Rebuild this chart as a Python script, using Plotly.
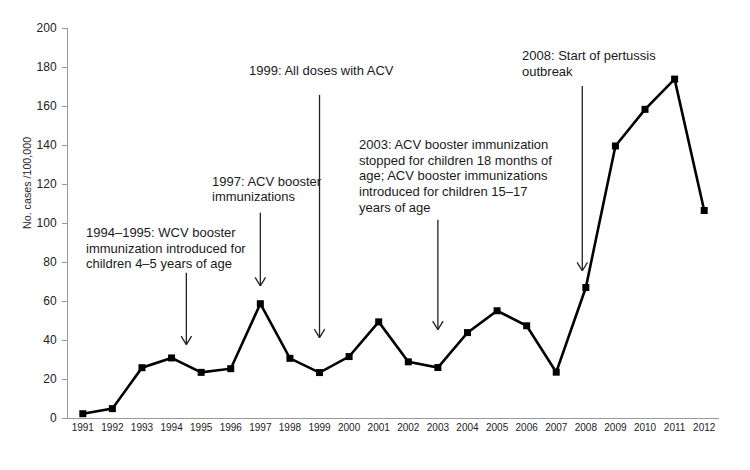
import plotly.graph_objects as go

# ---- data ----
years = list(range(1991, 2013))
cases = [2.2, 4.8, 25.8, 30.8, 23.4, 25.3, 58.6, 30.6, 23.3, 31.5, 49.3,
         28.8, 25.9, 43.8, 55.0, 47.3, 23.5, 66.9, 139.5, 158.3, 173.8, 106.4]
y_ticks = [0, 20, 40, 60, 80, 100, 120, 140, 160, 180, 200]

# annotation notes: left x (year units), line centres (value units), lines
note_x = [1991.07, 1995.33, 1996.59, 2000.30, 2005.81]
note_y = [[95.0, 87.0, 79.0],
          [121.4, 113.4],
          [178.1],
          [140.1, 132.1, 124.2, 116.2, 108.2],
          [185.8, 177.7]]
note_text = [["1994–1995: WCV booster", "immunization introduced for", "children 4–5 years of age"],
             ["1997: ACV booster", "immunizations"],
             ["1999: All doses with ACV"],
             ["2003: ACV booster immunization", "stopped for children 18 months of",
              "age; ACV booster immunizations", "introduced for children 15–17", "years of age"],
             ["2008: Start of pertussis", "outbreak"]]

# arrows: x (year units), top and bottom (value units)
arrow_x = [1994.5, 1997.0, 1999.0, 2003.0, 2007.88]
arrow_top = [74.5, 105.2, 165.7, 101.7, 170.3]
arrow_bot = [37.6, 67.8, 41.2, 45.3, 75.5]

FONT = "Liberation Sans, Arial, sans-serif"

# figure geometry (page has an 8px body margin)
W, H = 742, 462
ML, MR, MT, MB = 60, 31, 20, 52
plot_w = W - ML - MR
plot_h = H - MT - MB

fig = go.Figure()
fig.add_trace(go.Scatter(
    x=years, y=cases, mode="lines+markers",
    line=dict(color="#000000", width=2.6),
    marker=dict(symbol="square", size=7, color="#000000"),
    showlegend=False, hoverinfo="x+y"))

shapes = []
hw = 5.2 / 29.59   # half width of arrow head (years)
hh = 8.5 / 1.9525  # height of arrow head (value units)
for x, t, b in zip(arrow_x, arrow_top, arrow_bot):
    ln = dict(color="#222222", width=1.3)
    shapes.append(dict(type="line", xref="x", yref="y", x0=x, x1=x, y0=t, y1=b, line=ln))
    shapes.append(dict(type="line", xref="x", yref="y", x0=x - hw, x1=x, y0=b + hh, y1=b, line=ln))
    shapes.append(dict(type="line", xref="x", yref="y", x0=x + hw, x1=x, y0=b + hh, y1=b, line=ln))

annotations = []
for x, ys, texts in zip(note_x, note_y, note_text):
    for y, t in zip(ys, texts):
        annotations.append(dict(x=x, y=y, xref="x", yref="y", text=t, showarrow=False,
                                xanchor="left", yanchor="middle", borderpad=0,
                                font=dict(family=FONT, size=13, color="#1a1a1a")))
# y-axis title (not centred on the plot in the original)
annotations.append(dict(x=(19 - ML) / plot_w, y=(H - MB - 175) / plot_h,
                        xref="paper", yref="paper", text="No. cases /100,000",
                        showarrow=False, textangle=-90, xanchor="center", yanchor="middle",
                        font=dict(family=FONT, size=10.7, color="#222222")))

fig.update_layout(
    width=W, height=H,
    margin=dict(l=ML, r=MR, t=MT, b=MB),
    paper_bgcolor="white", plot_bgcolor="white",
    shapes=shapes,
    annotations=annotations,
    xaxis=dict(range=[1990.5, 2012.5], tickmode="array", tickvals=years,
               ticktext=[str(y) for y in years], showgrid=False, zeroline=False,
               showline=True, linecolor="#999999", linewidth=1, ticks="",
               tickfont=dict(family=FONT, size=10, color="#222222")),
    yaxis=dict(range=[0, 200], tickmode="array", tickvals=y_ticks, showgrid=False,
               zeroline=False, showline=True, linecolor="#999999", linewidth=1,
               ticks="outside", ticklen=5, tickcolor="#999999", ticklabelstandoff=3,
               tickfont=dict(family=FONT, size=12, color="#222222")),
)

fig.write_html("out.html")
